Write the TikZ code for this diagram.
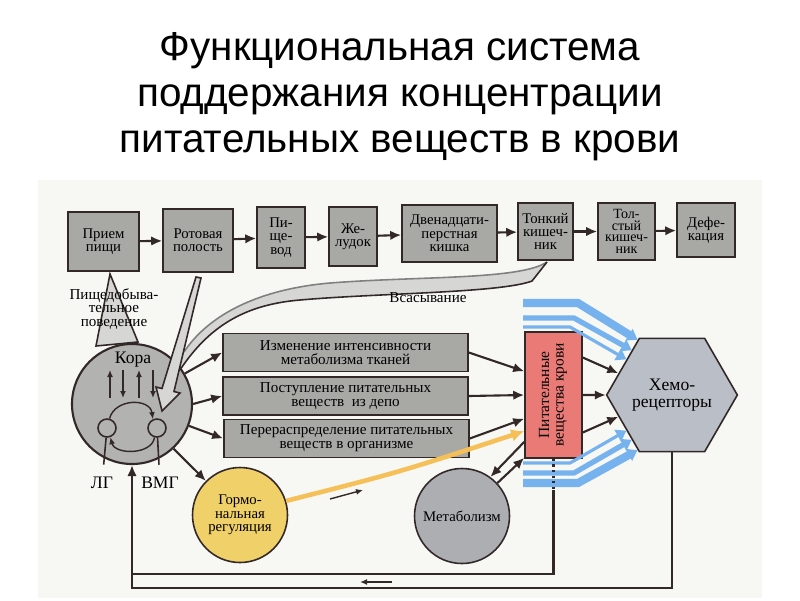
\documentclass[tikz,border=0pt]{standalone}
\usepackage{fontspec}
\setmainfont{Liberation Serif}
\newfontfamily\headfont{Liberation Sans}
\usepackage{graphicx}
\usetikzlibrary{shapes.geometric,arrows.meta}

\definecolor{inkc}{RGB}{50,40,40}
\definecolor{boxgray}{RGB}{168,168,165}
\definecolor{koragray}{RGB}{178,178,176}
\definecolor{wedgegray}{RGB}{214,214,212}
\definecolor{pitred}{RGB}{234,122,118}
\definecolor{hormyellow}{RGB}{240,208,105}
\definecolor{metabgray}{RGB}{172,174,178}
\definecolor{chemogray}{RGB}{186,190,198}
\definecolor{bandblue}{RGB}{118,178,238}
\definecolor{lineyellow}{RGB}{246,192,88}
\definecolor{photobg}{RGB}{247,247,244}

\newcommand\boxfont{\fontsize{4.2}{3.8}\selectfont}
\newcommand\tightfont{\fontsize{4}{3.35}\selectfont}
\newcommand\smallfont{\fontsize{4.3}{3.9}\selectfont}
\newcommand\labfont{\fontsize{5}{5}\selectfont}

\begin{document}
\begin{tikzpicture}[x=0.1mm,y=-0.1mm,line width=0.45pt,
    stage/.style={draw=inkc,fill=boxgray,align=center,inner sep=0pt,font=\boxfont},
    effect/.style={draw=inkc,fill=boxgray,align=center,inner sep=0pt,
      minimum width=24.5mm,minimum height=3.8mm,font=\smallfont},
    blob/.style={circle,draw=inkc,inner sep=0pt,align=center,font=\boxfont},
    flow/.style={draw=inkc,line width=0.6pt,-{Latex[length=1.1mm,width=0.95mm]}},
    thinflow/.style={draw=inkc,line width=0.4pt,-{Latex[length=0.7mm,width=0.6mm]}},
    band/.style={draw=bandblue,-{Triangle[length=1mm,width=1.3mm]}}]

  \useasboundingbox (0,0) rectangle (800,600);
  \fill[photobg] (38,180) rectangle (762,598);

  \node[font=\headfont\fontsize{11.5}{13.1}\selectfont,align=center] (title) at (400,97)
    {Функциональная система\\поддержания концентрации\\питательных веществ в крови};

  % food seeking wedge, absorption sweep
  \filldraw[fill=wedgegray,draw=inkc] (110,274) -- (96,346) -- (138,342) -- cycle;
  \fill[wedgegray] (547,262) .. controls (520,280) and (420,276) .. (330,283)
    .. controls (250,290) and (205,320) .. (184,352) -- (176,376)
    .. controls (205,330) and (240,305) .. (300,300)
    .. controls (380,293) and (500,293) .. (532,281) -- cycle;
  \draw[gray] (547,262) .. controls (520,280) and (420,276) .. (330,283)
    .. controls (250,290) and (205,320) .. (184,352);
  \draw[inkc] (176,376) .. controls (205,330) and (240,305) .. (300,300)
    .. controls (380,293) and (500,293) .. (532,281) -- (547,262);

  % digestive tract
  \node[stage,minimum width=7.1mm,minimum height=5.9mm] (priem) at (103.5,241.5) {Прием\\пищи};
  \node[stage,minimum width=7mm,minimum height=6.3mm] (rot) at (198,240.5) {Ротовая\\полость};
  \node[stage,minimum width=4.8mm,minimum height=6.1mm] (pishch) at (281,237.5) {Пи-\\ще-\\вод};
  \node[stage,minimum width=4.8mm,minimum height=5.9mm] (zhel) at (353,236.5) {Же-\\лудок};
  \node[stage,minimum width=9.5mm,minimum height=5.7mm] (dven) at (449.5,233.5) {Двенадцати-\\перстная\\кишка};
  \node[stage,minimum width=5.5mm,minimum height=5.7mm] (tonk) at (545.5,231.5) {Тонкий\\кишеч-\\ник};
  \node[stage,font=\tightfont,minimum width=5.7mm,minimum height=5.7mm] (tolst) at (626.5,231.5) {Тол-\\стый\\кишеч-\\ник};
  \node[stage,minimum width=5.8mm,minimum height=5.4mm] (defek) at (706,230) {Дефе-\\кация};
  \foreach \a/\b in {priem/rot,rot/pishch,pishch/zhel,zhel/dven,dven/tonk,tonk/tolst,tolst/defek}
    \draw[flow] (\a) -- (\b);

  \node[font=\smallfont,align=center] (behav) at (114,309) {Пищедобыва-\\тельное\\поведение};
  \node[font=\smallfont] (vsas) at (428,298) {Всасывание};

  % cortex
  \node[blob,fill=koragray,minimum size=12mm,line width=0.6pt] (kora) at (132,404) {};
  \filldraw[fill=wedgegray,draw=inkc] (196,277) -- (201,278) -- (174,391.5) -- (180,393)
    -- (162,411) -- (156,387) -- (162,388.5) -- cycle;
  \node[font=\labfont] (koralab) at (133,360) {Кора};
  \foreach \x in {110,139}
    \draw[thinflow] (\x,398) -- (\x,370);
  \foreach \x in {123,153}
    \draw[thinflow] (\x,370) -- (\x,398);
  \node[blob,fill=koragray,minimum size=1.8mm] (lg) at (107,428) {};
  \node[blob,fill=koragray,minimum size=1.8mm] (vmg) at (157,428) {};
  \draw[thinflow] (lg.75) .. controls (115,398) and (150,398) .. (vmg.115);
  \draw[thinflow] (vmg.-105) .. controls (152,455) and (115,455) .. (lg.-70);
  \node[font=\labfont] (lglab) at (102,483) {ЛГ};
  \node[font=\labfont] (vmglab) at (160,483) {ВМГ};
  \draw[inkc] (lg) -- (lglab);
  \draw[inkc] (vmg) -- (vmglab);

  % effectors
  \node[effect] (izm) at (345.5,352.5) {Изменение интенсивности\\метаболизма тканей};
  \node[effect] (post) at (345.5,396) {Поступление питательных\\веществ\ \ из депо};
  \node[effect] (pere) at (346.5,438.5) {Перераспределение питательных\\веществ в организме};

  \node[draw=inkc,fill=pitred,minimum width=5.7mm,minimum height=12.6mm,inner sep=0pt] (pit) at (553.5,395)
    {\rotatebox{90}{\fontsize{4.4}{4.1}\selectfont\begin{tabular}{@{}c@{}}Питательные\\вещества крови\end{tabular}}};
  \node[regular polygon,regular polygon sides=6,draw=inkc,fill=chemogray,minimum size=11.5mm,
    inner sep=0pt,align=center,font=\labfont] (chemo) at (672,395) {Хемо-\\рецепторы};
  \node[blob,fill=hormyellow,minimum size=9.5mm] (horm) at (240,515) {Гормо-\\нальная\\регуляция};
  \node[blob,fill=metabgray,minimum size=9.5mm] (metab) at (462,516) {Метаболизм};

  \draw[flow] (kora.30) -- (izm.west);
  \draw[flow] (kora.east) -- (post.west);
  \draw[flow] (kora.-21) -- (pere.west);
  \draw[flow] (kora.-47) -- (horm.135);

  \draw[flow] (izm.east) -- (pit.141);
  \draw[flow] (post.east) -- (pit.west);
  \draw[flow] (pere.east) -- (pit.219);
  \draw[draw=lineyellow,line width=1.3pt,-{Latex[length=1.3mm,width=1.3mm]}]
    (horm.17) .. controls (400,472) .. (pit.231);
  \draw[flow] (pit.238) -- (metab.54);
  \draw[flow] (metab.43) -- (pit.245);

  \draw[flow] (pit.52) -- (chemo.158);
  \draw[flow] (pit.east) -- (chemo.west);
  \draw[flow] (pit.-52) -- (chemo.202);

  % blood-borne signals
  \foreach \y/\w/\xb/\ang in {303/2.3pt/578/122,318/1.5pt/574/132,327/0.9pt/570/142,
      463/0.9pt/570/218,473/1.5pt/574/228,483/2.3pt/578/238}
    \draw[band,line width=\w] (523,\y) -- (\xb,\y) -- (chemo.\ang);

  % feedback
  \coordinate (fbA) at (132,588);
  \coordinate (fbB) at (132,574);
  \coordinate (dotend) at (553.5,490);
  \draw[flow] (chemo.south) |- (fbA) -- (kora.south);
  \draw[inkc,line width=0.6pt,densely dotted] (pit.south) -- (dotend);
  \draw[inkc,line width=0.6pt] (dotend) |- (fbB);

  \coordinate (dirA) at (330,499);
  \coordinate (dirB) at (363,490);
  \coordinate (dirC) at (392,582);
  \coordinate (dirD) at (360,582);
  \draw[thinflow] (dirA) -- (dirB);
  \draw[thinflow] (dirC) -- (dirD);
\end{tikzpicture}
\end{document}
